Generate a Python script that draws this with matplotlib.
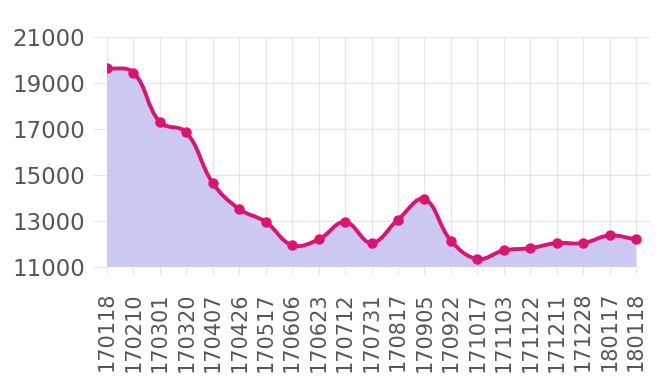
import numpy as np
import matplotlib
matplotlib.use("Agg")
import matplotlib.pyplot as plt
from matplotlib.path import Path
from matplotlib.patches import PathPatch

dates = ['170118', '170210', '170301', '170320', '170407', '170426', '170517',
         '170606', '170623', '170712', '170731', '170817', '170905', '170922',
         '171017', '171103', '171122', '171211', '171228', '180117', '180118']
prices = [19650, 19450, 17300, 16850, 14650, 13520, 12960, 11950, 12200, 12960,
          12050, 13060, 13950, 12150, 11350, 11720, 11820, 12040, 12040, 12370, 12200]
yticks = [11000, 13000, 15000, 17000, 19000, 21000]

line_color = '#dc1470'
fill_color = '#c9c6f2'
grid_color = '#e6e6e6'

fig = plt.figure(figsize=(6.6, 3.88), dpi=100)
ax = fig.add_axes([107/660, (388-267)/388, (650-107)/660, (267-37)/388])
x = np.arange(len(dates))
ax.set_xlim(0, (650-107)/((636-107)/20))
ax.set_ylim(11000, 21000)


def spline_path(xs, ys, tension=0.4):
    # chart.js style bezier smoothing, done in pixel space
    pts = ax.transData.transform(np.column_stack([xs, ys]))
    n = len(pts)
    verts = [pts[0]]
    codes = [Path.MOVETO]
    cps = []
    for i in range(n):
        prev = pts[max(i-1, 0)]
        cur = pts[i]
        nxt = pts[min(i+1, n-1)]
        d01 = np.hypot(*(cur-prev))
        d12 = np.hypot(*(nxt-cur))
        tot = d01 + d12
        s01 = d01/tot if tot else 0
        s12 = d12/tot if tot else 0
        c_prev = cur - tension*s01*(nxt-prev)
        c_next = cur + tension*s12*(nxt-prev)
        cps.append((c_prev, c_next))
    for i in range(1, n):
        verts += [cps[i-1][1], cps[i][0], pts[i]]
        codes += [Path.CURVE4]*3
    verts = ax.transData.inverted().transform(np.array(verts))
    return verts, codes


verts, codes = spline_path(x, prices)
ax.add_patch(PathPatch(Path(verts, codes), facecolor='none', edgecolor=line_color,
                       lw=2.8, zorder=4, capstyle='round'))
# fill under the curve
fverts = np.vstack([verts, [[x[-1], 11000], [x[0], 11000], verts[0]]])
fcodes = codes + [Path.LINETO, Path.LINETO, Path.CLOSEPOLY]
ax.add_patch(PathPatch(Path(fverts, fcodes), facecolor=fill_color, edgecolor='none',
                       alpha=0.95, zorder=2))
ax.plot(x, prices, 'o', color=line_color, ms=6.5, zorder=5)

ax.set_yticks(yticks)
ax.set_yticklabels([str(v) for v in yticks])
ax.set_xticks(x)
ax.set_xticklabels(dates, rotation=90)
ax.grid(True, color=grid_color, lw=1, zorder=1)
for s in ax.spines.values():
    s.set_visible(False)
ax.tick_params(axis='y', length=10, color=grid_color, labelsize=16.5, labelcolor='#555555', pad=6)
ax.tick_params(axis='x', length=6, color=grid_color, labelsize=15, labelcolor='#555555', pad=12)
ax.set_axisbelow(True)

fig.savefig('out.png', dpi=100)
